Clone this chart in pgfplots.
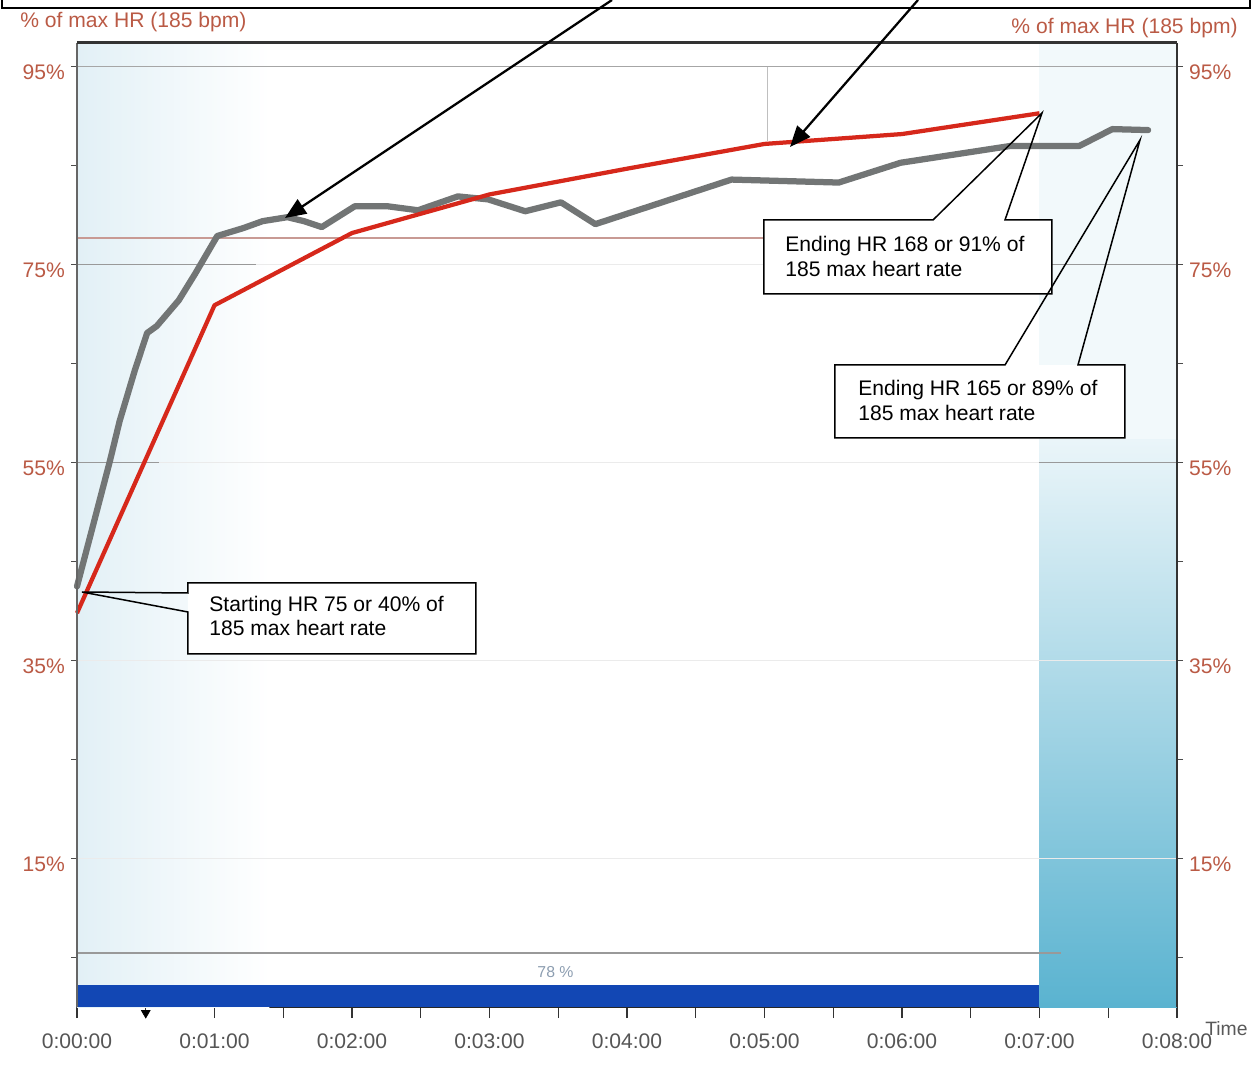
\documentclass[border=0pt]{standalone}
\usepackage{pgfplots}
\pgfplotsset{compat=1.18}
\usepackage{pgfplotstable}
\usepackage{fontspec}
\setmainfont{Liberation Sans}
\usetikzlibrary{arrows.meta}
\definecolor{hrred}{HTML}{D6281B}
\definecolor{hrgray}{HTML}{727575}
\definecolor{lblred}{HTML}{BA5A45}
\definecolor{barblue}{HTML}{1247B4}
\definecolor{cyanbot}{HTML}{5AB3D0}
\definecolor{cyantop}{HTML}{EAF5F9}
\definecolor{tintblue}{HTML}{E2F0F6}
\definecolor{ticklbl}{HTML}{555555}
\definecolor{refred}{HTML}{C89A94}
\definecolor{pctlbl}{HTML}{8C9DB0}

\pgfplotstableread{
t p
0 42.5
0.11 48.3
0.24 55.2
0.31 59.2
0.42 64.3
0.51 68.1
0.58 68.8
0.74 71.4
0.86 74.1
1.02 77.9
1.21 78.7
1.35 79.4
1.53 79.8
1.65 79.4
1.78 78.8
2.02 80.9
2.26 80.9
2.48 80.5
2.77 81.9
2.99 81.6
3.26 80.4
3.52 81.3
3.77 79.1
4.76 83.6
5.54 83.3
5.99 85.3
6.79 87.0
7.29 87.0
7.53 88.7
7.79 88.6
}\grayhr

\pgfplotstableread{
t p
0 39.8
1 70.9
2 78.2
3 82.1
4 84.7
5 87.2
6 88.2
7 90.3
}\redhr

\pgfplotsset{hrbase/.style={at={(15.4mm,-201.4mm)}, anchor=south west,
  scale only axis, width=220mm, height=192.8mm,
  xmin=0, xmax=8, ymin=0, ymax=97.4}}

\newcommand{\lblfont}{\fontsize{12}{14}\selectfont}

\begin{document}
\begin{tikzpicture}
\useasboundingbox (0,0) rectangle (251.4mm,-213.6mm);

\begin{axis}[hrbase, clip=false,
  axis x line*=bottom, axis y line=none,
  x axis line style={draw=black!85, line width=0.35mm, -},
  xtick={0,1,...,8},
  xticklabels={0:00:00,0:01:00,0:02:00,0:03:00,0:04:00,0:05:00,0:06:00,0:07:00,0:08:00},
  minor xtick={0.5,1.5,...,7.5},
  tick align=outside, major tick length=2.2mm, minor tick length=2.2mm,
  every tick/.style={draw=black!80, line width=0.25mm},
  xticklabel style={font=\lblfont, text=ticklbl, anchor=base, yshift=-6mm},
]
% background tints
\addplot[draw=none, left color=tintblue, right color=white, shading=axis] coordinates {(0,97.4) (1.4,97.4)} \closedcycle;
\addplot[draw=none, fill=cyantop!60!white] coordinates {(7,97.4) (8,97.4)} \closedcycle;
\addplot[draw=none, top color=cyantop, bottom color=cyanbot] coordinates {(7,57.3) (8,57.3)} \closedcycle;
\addplot[draw=none, fill=barblue] coordinates {(0,2.2) (7,2.2)} \closedcycle;
% grid-like lines
\addplot[draw=black!35, line width=0.3mm] coordinates {(0,95) (8,95)};
\addplot[draw=black!8, line width=0.2mm] coordinates {(0,75) (8,75)};
\addplot[draw=black!8, line width=0.2mm] coordinates {(0,55) (8,55)};
\addplot[draw=black!8, line width=0.2mm] coordinates {(0,35) (8,35)};
\addplot[draw=black!8, line width=0.2mm] coordinates {(0,15) (8,15)};
\addplot[draw=black!40, line width=0.2mm] coordinates {(0,75) (1.3,75)};
\addplot[draw=black!40, line width=0.2mm] coordinates {(7,75) (8,75)};
\addplot[draw=black!40, line width=0.2mm] coordinates {(0,55) (0.6,55)};
\addplot[draw=black!40, line width=0.2mm] coordinates {(7,55) (8,55)};
\addplot[draw=black!25, line width=0.15mm] coordinates {(5.02,95) (5.02,87.5)};
\addplot[draw=refred, line width=0.25mm] coordinates {(0,77.7) (7,77.7)};
\addplot[draw=black!40, line width=0.25mm] coordinates {(0,5.45) (7.16,5.45)};
\node[font=\fontsize{9}{10}\selectfont, text=pctlbl] at (axis cs:3.48,3.5) {78 \%};
% data
\addplot[hrgray, line width=1.25mm, line join=round, line cap=round] table {\grayhr};
\addplot[hrred, line width=0.85mm, line join=round] table {\redhr};
\addplot[only marks, mark=triangle*, mark size=1mm, mark options={rotate=180, fill=black, draw=black}] coordinates {(0.5,-0.6)};
\end{axis}

\begin{axis}[hrbase,
  axis x line=none, axis y line*=left,
  y axis line style={draw=black!60, line width=0.25mm, -},
  ytick={15,35,55,75,95}, yticklabels={15\%,35\%,55\%,75\%,95\%},
  minor ytick={5,25,45,65,85},
  tick align=outside, major tick length=1.2mm, minor tick length=1.2mm,
  every tick/.style={draw=black!70, line width=0.25mm},
  yticklabel style={font=\lblfont, text=lblred, anchor=base east, yshift=-2.5mm},
]
\addplot[draw=none] coordinates {(0,0)};
\end{axis}

\begin{axis}[hrbase,
  axis x line=none, axis y line*=right,
  y axis line style={draw=black!80, line width=0.3mm, -},
  ytick={15,35,55,75,95}, yticklabels={15\%,35\%,55\%,75\%,95\%},
  minor ytick={5,25,45,65,85},
  tick align=outside, major tick length=1.2mm, minor tick length=1.2mm,
  every tick/.style={draw=black!70, line width=0.25mm},
  yticklabel style={font=\lblfont, text=lblred, anchor=base west, yshift=-2.5mm},
]
\addplot[draw=none] coordinates {(0,0)};
\end{axis}

\begin{scope}[x=0.2mm,y=-0.2mm]
% top frame
\draw[line width=0.6mm, draw=black!80] (77,43) -- (1177,43);

% axis titles
\node[anchor=base west, font=\lblfont, text=lblred, inner sep=0] at (20,28) {\% of max HR (185 bpm)};
\node[anchor=base east, font=\lblfont, text=lblred, inner sep=0] at (1238,33) {\% of max HR (185 bpm)};
\node[anchor=base west, font=\fontsize{11}{12}\selectfont, text=black!65, inner sep=0] at (1205,1036) {Time};

% cropped top box and arrows
\draw[line width=0.35mm] (2,-2) -- (2,8) -- (1250,8) -- (1250,-2);
\draw[line width=0.45mm, -{Triangle[length=4.2mm,width=3.4mm]}] (612,0) -- (285,218);
\draw[line width=0.45mm, -{Triangle[length=4.2mm,width=3.4mm]}] (918,0) -- (790,147);

% callout 1
\fill[white] (764,220) rectangle (1052,294);
\draw[line width=0.3mm, line join=miter] (1005,220) -- (1052,220) -- (1052,294) -- (764,294) -- (764,220) -- (933,220) -- (1042,113) -- cycle;
\node[anchor=base west, font=\lblfont, inner sep=0] at (785,252) {Ending HR 168 or 91\% of};
\node[anchor=base west, font=\lblfont, inner sep=0] at (785,277) {185 max heart rate};

% callout 2
\fill[white] (835,365) rectangle (1125,438);
\draw[line width=0.3mm, line join=miter] (1078,365) -- (1125,365) -- (1125,438) -- (835,438) -- (835,365) -- (1005,365) -- (1140,140) -- cycle;
\node[anchor=base west, font=\lblfont, inner sep=0] at (858,396) {Ending HR 165 or 89\% of};
\node[anchor=base west, font=\lblfont, inner sep=0] at (858,421) {185 max heart rate};

% callout 3
\fill[white] (188,583) rectangle (476,654);
\draw[line width=0.3mm, line join=miter] (188,593) -- (188,583) -- (476,583) -- (476,654) -- (188,654) -- (188,612) -- (82,592) -- cycle;
\node[anchor=base west, font=\lblfont, inner sep=0] at (209,612) {Starting HR 75 or 40\% of};
\node[anchor=base west, font=\lblfont, inner sep=0] at (209,636) {185 max heart rate};
\end{scope}
\end{tikzpicture}
\end{document}
